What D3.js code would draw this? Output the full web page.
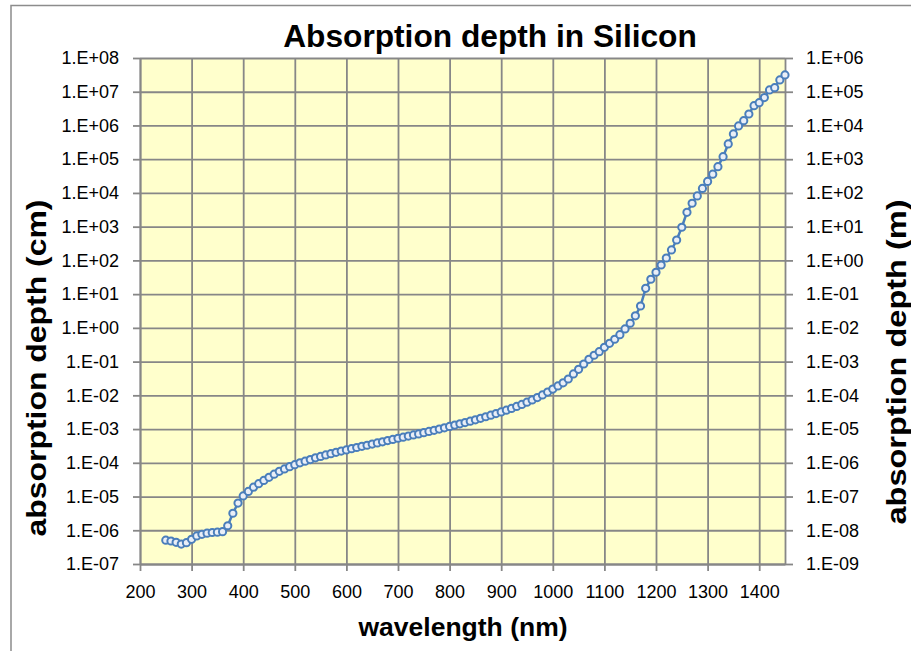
<!DOCTYPE html>
<html>
<head>
<meta charset="utf-8">
<script src="https://cdn.jsdelivr.net/npm/d3@7"></script>
<style>
  body { margin: 0; background: #fff; }
  text { font-family: "Liberation Sans", Arial, sans-serif; }
</style>
</head>
<body>
<svg id="chart" width="911" height="651"></svg>
<script>
// wavelength in nm, one point every 10 nm
var wavelengths = [
  250, 260, 270, 280, 290, 300, 310, 320, 330, 340, 350, 360, 370, 380, 390,
  400, 410, 420, 430, 440, 450, 460, 470, 480, 490, 500, 510, 520, 530, 540,
  550, 560, 570, 580, 590, 600, 610, 620, 630, 640, 650, 660, 670, 680, 690,
  700, 710, 720, 730, 740, 750, 760, 770, 780, 790, 800, 810, 820, 830, 840,
  850, 860, 870, 880, 890, 900, 910, 920, 930, 940, 950, 960, 970, 980, 990,
  1000, 1010, 1020, 1030, 1040, 1050, 1060, 1070, 1080, 1090, 1100, 1110, 1120, 1130, 1140,
  1150, 1160, 1170, 1180, 1190, 1200, 1210, 1220, 1230, 1240, 1250, 1260, 1270, 1280, 1290,
  1300, 1310, 1320, 1330, 1340, 1350, 1360, 1370, 1380, 1390, 1400, 1410, 1420, 1430, 1440,
  1450
];

// absorption depth in cm, same order
var depthCm = [
  5.1e-7, 4.8e-7, 4.4e-7, 3.9e-7, 4.3e-7, 5.4e-7, 6.8e-7, 7.6e-7, 8.2e-7, 8.6e-7, 8.8e-7, 9.1e-7, 1.36e-6, 3.2e-6, 6.4e-6,
  1.04e-5, 1.42e-5, 1.9e-5, 2.4e-5, 3.0e-5, 3.7e-5, 4.6e-5, 5.6e-5, 6.6e-5, 7.7e-5, 8.8e-5, 1.0e-4, 1.12e-4, 1.25e-4, 1.4e-4,
  1.55e-4, 1.71e-4, 1.87e-4, 2.04e-4, 2.22e-4, 2.41e-4, 2.62e-4, 2.84e-4, 3.07e-4, 3.31e-4, 3.58e-4, 3.88e-4, 4.2e-4, 4.55e-4, 4.93e-4,
  5.35e-4, 5.75e-4, 6.2e-4, 6.7e-4, 7.2e-4, 7.8e-4, 8.5e-4, 9.2e-4, 1.0e-3, 1.09e-3, 1.2e-3, 1.31e-3, 1.43e-3, 1.56e-3, 1.71e-3,
  1.88e-3, 2.08e-3, 2.32e-3, 2.58e-3, 2.88e-3, 3.22e-3, 3.62e-3, 4.1e-3, 4.68e-3, 5.38e-3, 6.25e-3, 7.3e-3, 8.6e-3, 1.03e-2, 1.25e-2,
  1.53e-2, 1.9e-2, 2.35e-2, 3.05e-2, 4.3e-2, 5.9e-2, 8.5e-2, 0.117, 0.154, 0.197, 0.265, 0.349, 0.459, 0.628, 0.93,
  1.37, 2.27, 4.45, 14.9, 27.6, 44.5, 73, 118, 204, 403, 960, 2670, 4940, 8130, 1.36e4,
  2.2e4, 3.6e4, 6.0e4, 1.19e5, 2.83e5, 5.6e5, 9.7e5, 1.39e6, 2.19e6, 3.87e6, 4.75e6, 6.7e6, 1.13e7, 1.32e7, 2.24e7,
  3.14e7
];

var xTicks = [200, 300, 400, 500, 600, 700, 800, 900, 1000, 1100, 1200, 1300, 1400];
var yTicksCm = [1e-7, 1e-6, 1e-5, 1e-4, 1e-3, 1e-2, 1e-1, 1e0, 1e1, 1e2, 1e3, 1e4, 1e5, 1e6, 1e7, 1e8];
var yTicksM = [1e-9, 1e-8, 1e-7, 1e-6, 1e-5, 1e-4, 1e-3, 1e-2, 1e-1, 1e0, 1e1, 1e2, 1e3, 1e4, 1e5, 1e6];

var data = wavelengths.map(function(w, i) { return {w: w, d: depthCm[i]}; });

// Excel style "1.E+08" labels
function sci(v) {
  var e = Math.round(Math.log10(v));
  var s = e < 0 ? "-" : "+";
  var a = Math.abs(e);
  return "1.E" + s + (a < 10 ? "0" : "") + a;
}

var svg = d3.select("#chart");
var margin = {top: 58, right: 126, bottom: 87, left: 140},
    width = 911 - margin.left - margin.right,
    height = 651 - margin.top - margin.bottom;

var gridColor = "#878787";

// outer chart border
svg.append("rect")
    .attr("x", 11).attr("y", 5.5)
    .attr("width", 940).attr("height", 700)
    .attr("fill", "#fff")
    .attr("stroke", "#8c8c8c")
    .attr("stroke-width", 1.5);

var x = d3.scaleLinear().domain([200, 1450]).range([0, width]);
var y = d3.scaleLog().domain([1e-7, 1e8]).range([height, 0]);
var y2 = d3.scaleLog().domain([1e-9, 1e6]).range([height, 0]);

var g = svg.append("g")
    .attr("transform", "translate(" + margin.left + "," + margin.top + ")");

g.append("rect")
    .attr("width", width).attr("height", height)
    .attr("fill", "#ffffcc");

// grid
g.append("g")
    .attr("class", "grid")
    .call(d3.axisLeft(y).tickValues(yTicksCm).tickSize(-width).tickFormat(""))
    .call(function(s) { s.select(".domain").remove(); });
g.append("g")
    .attr("class", "grid")
    .attr("transform", "translate(0," + height + ")")
    .call(d3.axisBottom(x).tickValues(xTicks).tickSize(-height).tickFormat(""))
    .call(function(s) { s.select(".domain").remove(); });
g.selectAll(".grid line")
    .attr("stroke", gridColor)
    .attr("stroke-width", 1.8);

// axes
var xAxis = g.append("g")
    .attr("transform", "translate(0," + height + ")")
    .call(d3.axisBottom(x).tickValues(xTicks).tickFormat(d3.format("d"))
      .tickSize(7).tickPadding(14).tickSizeOuter(0));
var yAxis = g.append("g")
    .call(d3.axisLeft(y).tickValues(yTicksCm).tickFormat(sci).tickSize(7).tickPadding(14).tickSizeOuter(0));
var yAxis2 = g.append("g")
    .attr("transform", "translate(" + width + ",0)")
    .call(d3.axisRight(y2).tickValues(yTicksM).tickFormat(sci).tickSize(8).tickPadding(13).tickSizeOuter(0));

[xAxis, yAxis, yAxis2].forEach(function(a) {
  a.select(".domain").attr("stroke", gridColor).attr("stroke-width", 1.8);
  a.selectAll(".tick line").attr("stroke", gridColor).attr("stroke-width", 1.8);
  a.selectAll(".tick text")
      .attr("fill", "#000")
      .style("font-size", "18px");
});

// series line and markers
var line = d3.line()
    .x(function(d) { return x(d.w); })
    .y(function(d) { return y(d.d); });

g.append("path")
    .datum(data)
    .attr("fill", "none")
    .attr("stroke", "#4a7ebb")
    .attr("stroke-width", 2.5)
    .attr("d", line);

g.selectAll(".dot")
    .data(data)
    .enter().append("circle")
    .attr("class", "dot")
    .attr("cx", function(d) { return x(d.w); })
    .attr("cy", function(d) { return y(d.d); })
    .attr("r", 3.6)
    .attr("fill", "#e9eef7")
    .attr("stroke", "#4a7ebb")
    .attr("stroke-width", 2);

// titles
svg.append("text")
    .attr("x", 490).attr("y", 46.5)
    .attr("text-anchor", "middle")
    .style("font-size", "31.7px")
    .style("font-weight", "bold")
    .text("Absorption depth in Silicon");

svg.append("text")
    .attr("x", 463).attr("y", 636)
    .attr("text-anchor", "middle")
    .style("font-size", "26.5px")
    .style("font-weight", "bold")
    .text("wavelength (nm)");

svg.append("text")
    .attr("transform", "translate(46,368) rotate(-90)")
    .attr("text-anchor", "middle")
    .attr("textLength", 337)
    .attr("lengthAdjust", "spacingAndGlyphs")
    .style("font-size", "27px")
    .style("font-weight", "bold")
    .text("absorption depth (cm)");

svg.append("text")
    .attr("transform", "translate(906,362) rotate(-90)")
    .attr("text-anchor", "middle")
    .attr("textLength", 325)
    .attr("lengthAdjust", "spacingAndGlyphs")
    .style("font-size", "27px")
    .style("font-weight", "bold")
    .text("absorption depth (m)");
</script>
</body>
</html>
